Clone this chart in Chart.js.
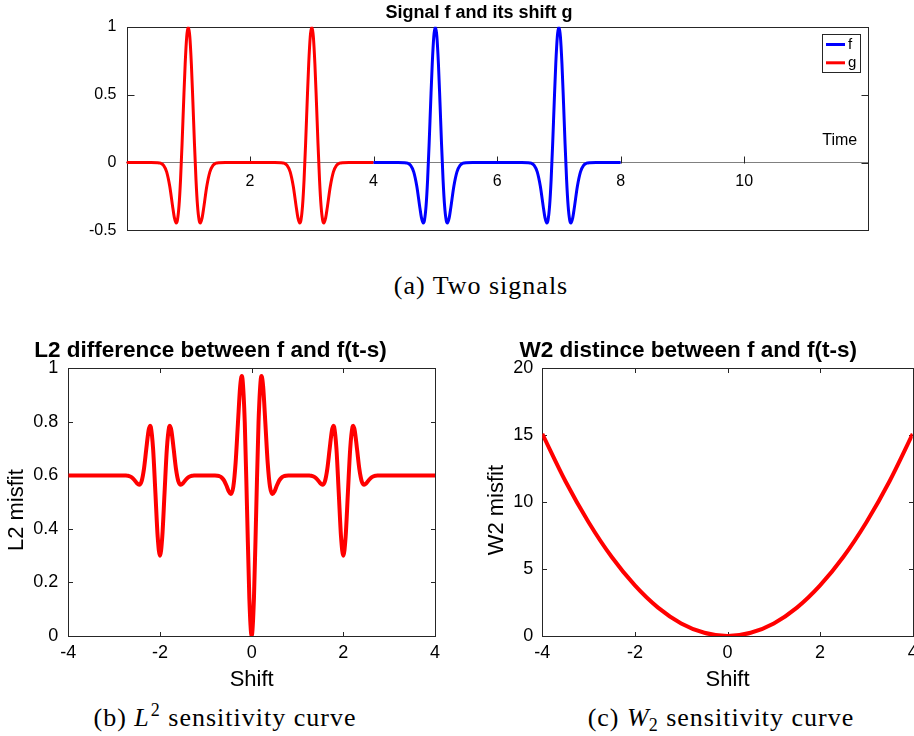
<!DOCTYPE html>
<html>
<head>
<meta charset="utf-8">
<script src="https://cdn.jsdelivr.net/npm/chart.js@4.4.1/dist/chart.umd.min.js"></script>
<style>
  html, body { margin: 0; padding: 0; background: #fff; }
  body { width: 914px; height: 736px; overflow: hidden; position: relative; }
  canvas { position: absolute; }
  .cap {
    position: absolute; width: 300px; text-align: center; white-space: nowrap;
    font-family: "Liberation Serif", "Times New Roman", serif;
    font-size: 26px; line-height: 26px; letter-spacing: 1px; color: #000;
  }
  .cap i { font-style: italic; letter-spacing: 0; }
  .cap .sup { font-size: 18px; position: relative; top: -10px; margin-left: 2px; }
  .cap .sub { font-size: 18px; position: relative; top: 5px; }
</style>
</head>
<body>
<canvas id="signals" width="870" height="250" style="left:44px;top:0;width:870px;height:250px"></canvas>
<canvas id="l2" width="450" height="370" style="left:0;top:330px;width:450px;height:370px"></canvas>
<canvas id="w2" width="470" height="370" style="left:460px;top:330px;width:470px;height:370px"></canvas>
<div class="cap" style="left:331px;top:273px">(a) Two signals</div>
<div class="cap" style="left:75px;top:705px">(b) <i>L</i><span class="sup">2</span> sensitivity curve</div>
<div class="cap" style="left:571px;top:705px">(c) <i>W</i><span class="sub">2</span> sensitivity curve</div>

<script>
// ---- Signal data: one sampled wavelet, placed at each pulse time ----
const pulseOffsets = [-0.6, -0.5, -0.45, -0.4, -0.35, -0.3, -0.25, -0.225, -0.195, -0.175, -0.15, -0.125,
  -0.1, -0.075, -0.05, -0.025, 0, 0.025, 0.05, 0.075, 0.1, 0.125, 0.15, 0.175, 0.195, 0.225, 0.25,
  0.3, 0.35, 0.4, 0.45, 0.5, 0.6];
const pulseValues = [0, -0.001, -0.005, -0.021, -0.069, -0.175, -0.334, -0.406, -0.446, -0.423, -0.320, -0.126,
  0.142, 0.445, 0.727, 0.927, 1, 0.927, 0.727, 0.445, 0.142, -0.126, -0.320, -0.423, -0.446, -0.406, -0.334,
  -0.175, -0.069, -0.021, -0.005, -0.001, 0];
const fPulseTimes = [5, 7];
const gPulseTimes = [1, 3];
const fTimeRange = [4, 8];
const gTimeRange = [0, 4];

// ---- L2 misfit: flat level with dips around shifts -2, 0 and 2 ----
const dipOffsets = [-0.8, -0.75, -0.7, -0.65, -0.6, -0.55, -0.5, -0.455, -0.4, -0.35, -0.3, -0.25, -0.216,
  -0.2, -0.15, -0.1, -0.05, 0, 0.05, 0.1, 0.15, 0.2, 0.216, 0.25, 0.3, 0.35, 0.4, 0.455, 0.5, 0.55, 0.6,
  0.65, 0.7, 0.75, 0.8];
const sideDipMisfit = [0.6, 0.5995, 0.5984, 0.5957, 0.5902, 0.5811, 0.5704, 0.5651, 0.5787, 0.6234, 0.6963,
  0.7665, 0.7855, 0.7808, 0.6988, 0.5354, 0.3699, 0.3, 0.3699, 0.5354, 0.6988, 0.7808, 0.7855, 0.7665,
  0.6963, 0.6234, 0.5787, 0.5651, 0.5704, 0.5811, 0.5902, 0.5957, 0.5984, 0.5995, 0.6];
const centreDipMisfit = [0.5997, 0.5989, 0.5968, 0.5914, 0.5804, 0.5622, 0.5407, 0.5303, 0.5575, 0.6468,
  0.7927, 0.9329, 0.9710, 0.9615, 0.7976, 0.4708, 0.1397, 0, 0.1397, 0.4708, 0.7976, 0.9615, 0.9710,
  0.9329, 0.7927, 0.6468, 0.5575, 0.5303, 0.5407, 0.5622, 0.5804, 0.5914, 0.5968, 0.5989, 0.5997];
const sideDipShifts = [-2, 2];
const centreDipShift = 0;
const l2ShiftRange = [-4, 4];
const l2Level = 0.6;

// ---- W2 misfit ----
const w2Shift = [-4, -3.5, -3, -2.5, -2, -1.5, -1, -0.5, 0, 0.5, 1, 1.5, 2, 2.5, 3, 3.5, 4];
const w2Misfit = [15.1, 11.56, 8.5, 5.9, 3.78, 2.12, 0.94, 0.24, 0, 0.24, 0.94, 2.12, 3.78, 5.9, 8.5, 11.56, 15.1];

// ---- point lists ----
function pulseTrain(range, times) {
  const pts = [{ x: range[0], y: 0 }];
  times.forEach(t => pulseOffsets.forEach((d, i) => pts.push({ x: t + d, y: pulseValues[i] })));
  pts.push({ x: range[1], y: 0 });
  return pts;
}
function placeDip(centre, values) {
  return dipOffsets.map((d, i) => ({ x: centre + d, y: values[i] }));
}
const fPoints = pulseTrain(fTimeRange, fPulseTimes);
const gPoints = pulseTrain(gTimeRange, gPulseTimes);
const l2Points = [{ x: l2ShiftRange[0], y: l2Level }]
  .concat(placeDip(sideDipShifts[0], sideDipMisfit))
  .concat(placeDip(centreDipShift, centreDipMisfit))
  .concat(placeDip(sideDipShifts[1], sideDipMisfit))
  .concat([{ x: l2ShiftRange[1], y: l2Level }]);
const w2Points = w2Shift.map((s, i) => ({ x: s, y: w2Misfit[i] }));

// ---- shared look ----
const SANS = '"Liberation Sans", Arial, Helvetica, sans-serif';
const AXIS_COLOR = '#262626';
Chart.defaults.font.family = SANS;
Chart.defaults.color = '#000';
const plainNumber = v => String(Number(v.toFixed(3)));

// Box around the axes with inward tick marks
const framePlugin = {
  id: 'frame',
  beforeDatasetsDraw(chart, args, o) {
    const { ctx, chartArea: a } = chart;
    const xs = chart.scales.x, ys = chart.scales.y;
    const snap = v => Math.round(v) + 0.5;
    const L = snap(a.left), R = snap(a.right), T = snap(a.top), B = snap(a.bottom);
    ctx.save();
    ctx.strokeStyle = AXIS_COLOR;
    ctx.lineWidth = 1;
    ctx.strokeRect(L, T, R - L, B - T);
    ctx.beginPath();
    xs.ticks.forEach(t => {
      if (o.skipX && o.skipX.includes(t.value)) return;
      const px = snap(xs.getPixelForValue(t.value));
      if (o.xOrigin) {
        const py = snap(ys.getPixelForValue(0));
        ctx.moveTo(px, py); ctx.lineTo(px, py - o.tick);
      } else {
        ctx.moveTo(px, B); ctx.lineTo(px, B - o.tick);
        ctx.moveTo(px, T); ctx.lineTo(px, T + o.tick);
      }
    });
    ys.ticks.forEach(t => {
      const py = snap(ys.getPixelForValue(t.value));
      ctx.moveTo(L, py); ctx.lineTo(L + o.tick, py);
      ctx.moveTo(R, py); ctx.lineTo(R - o.tick, py);
    });
    ctx.stroke();
    ctx.restore();
  }
};

// Bold heading above each axes box, and an optional rotated y-axis name
const headline = {
  id: 'headline',
  afterDraw(chart, args, o) {
    const { ctx, chartArea: a } = chart;
    ctx.save();
    ctx.fillStyle = '#000';
    ctx.textAlign = 'center';
    ctx.textBaseline = 'middle';
    ctx.font = 'bold ' + o.size + 'px ' + SANS;
    ctx.fillText(o.text, o.x, o.y);
    if (o.yName) {
      ctx.font = '22px ' + SANS;
      ctx.translate(o.yNameX, (a.top + a.bottom) / 2 + o.yNameShift);
      ctx.rotate(-Math.PI / 2);
      ctx.fillText(o.yName, 0, 0);
    }
    ctx.restore();
  }
};

// Boxed legend in the upper right corner plus the "Time" axis name beside the origin axis
const signalNotes = {
  id: 'signalNotes',
  afterDatasetsDraw(chart, args, o) {
    const { ctx, chartArea: a } = chart;
    const ys = chart.scales.y;
    ctx.save();
    ctx.font = '16px ' + SANS;
    ctx.fillStyle = '#000';
    ctx.textAlign = 'right';
    ctx.textBaseline = 'middle';
    ctx.fillText('Time', a.right - 10.5, ys.getPixelForValue(0) - 21.5);

    const w = 38, h = 38, right = Math.round(a.right - 8) + 0.5, top = Math.round(a.top + 7.5) + 0.5;
    const left = right - w;
    ctx.fillStyle = '#fff';
    ctx.fillRect(left, top, w, h);
    ctx.strokeStyle = AXIS_COLOR;
    ctx.lineWidth = 1;
    ctx.strokeRect(left, top, w, h);
    ctx.font = '15px ' + SANS;
    ctx.textAlign = 'left';
    chart.data.datasets.forEach((ds, i) => {
      const y = top + 10 + i * 18.3;
      ctx.strokeStyle = ds.borderColor;
      ctx.lineWidth = 3;
      ctx.beginPath();
      ctx.moveTo(left + 3.5, y); ctx.lineTo(left + 22.5, y);
      ctx.stroke();
      ctx.fillStyle = '#000';
      ctx.fillText(ds.label, left + 25.5, y);
    });
    ctx.restore();
  }
};

const lineStyle = { pointRadius: 0, fill: false, cubicInterpolationMode: 'monotone' };
const noGrid = { display: false, drawTicks: false };

// (a) signals
new Chart(document.getElementById('signals'), {
  type: 'line',
  data: {
    datasets: [
      Object.assign({ label: 'f', data: fPoints, borderColor: '#0000ff', borderWidth: 3 }, lineStyle),
      Object.assign({ label: 'g', data: gPoints, borderColor: '#ff0000', borderWidth: 3 }, lineStyle)
    ]
  },
  options: {
    responsive: false, animation: false, events: [],
    layout: { padding: { left: 0, right: 46.3, top: 26.7, bottom: 16.7 } },
    scales: {
      x: {
        type: 'linear', axis: 'x', position: { y: 0 }, min: 0, max: 12,
        grid: noGrid,
        border: { display: true, color: '#808080', width: 1 },
        ticks: { stepSize: 2, padding: 9, font: { size: 16 }, maxRotation: 0, autoSkip: false,
          callback: v => (v === 0 || v === 12) ? '' : plainNumber(v) }
      },
      y: {
        type: 'linear', position: 'left', min: -0.5, max: 1,
        grid: noGrid, border: { display: false },
        ticks: { stepSize: 0.5, padding: 10, font: { size: 16 }, callback: plainNumber },
        afterFit: s => { s.width = 82.5; }
      }
    },
    plugins: {
      legend: { display: false }, tooltip: { enabled: false },
      headline: { text: 'Signal f and its shift g', size: 18, x: 435, y: 13.3 },
      frame: { tick: 7, xOrigin: true, skipX: [0, 12] }
    }
  },
  plugins: [framePlugin, signalNotes, headline]
});

function misfitChart(id, points, yMax, yStep, yTitle, title, titleX, yWidth, yLabelPad, yNameX, rightPad) {
  return new Chart(document.getElementById(id), {
    type: 'line',
    data: { datasets: [Object.assign({ label: yTitle, data: points, borderColor: '#ff0000', borderWidth: 4 }, lineStyle)] },
    options: {
      responsive: false, animation: false, events: [],
      layout: { padding: { left: 0, right: rightPad, top: 38.3, bottom: 0 } },
      scales: {
        x: {
          type: 'linear', position: 'bottom', min: -4, max: 4,
          grid: noGrid, border: { display: false },
          ticks: { stepSize: 2, padding: 6.5, font: { size: 18 }, maxRotation: 0, autoSkip: false, callback: plainNumber },
          title: { display: true, text: 'Shift', font: { size: 22 }, padding: { top: 0, bottom: 6.8 } },
          afterFit: s => { s.height = 64; }
        },
        y: {
          type: 'linear', position: 'left', min: 0, max: yMax,
          grid: noGrid, border: { display: false },
          ticks: { stepSize: yStep, padding: yLabelPad, font: { size: 18 }, callback: plainNumber },
          afterFit: s => { s.width = yWidth; }
        }
      },
      plugins: {
        legend: { display: false }, tooltip: { enabled: false },
        headline: { text: title, size: 22.5, x: titleX, y: 20.7, yName: yTitle, yNameX: yNameX, yNameShift: 8 },
        frame: { tick: 4.5 }
      }
    },
    plugins: [framePlugin, headline]
  });
}

// (b) L2 sensitivity
misfitChart('l2', l2Points, 1, 0.2, 'L2 misfit', 'L2 difference between f and f(t-s)', 210.5, 68.3, 10, 16.7, 15);
// (c) W2 sensitivity
misfitChart('w2', w2Points, 20, 5, 'W2 misfit', 'W2 distince between f and f(t-s)', 228.3, 82.3, 9, 36.7, 17.3);
</script>
</body>
</html>
